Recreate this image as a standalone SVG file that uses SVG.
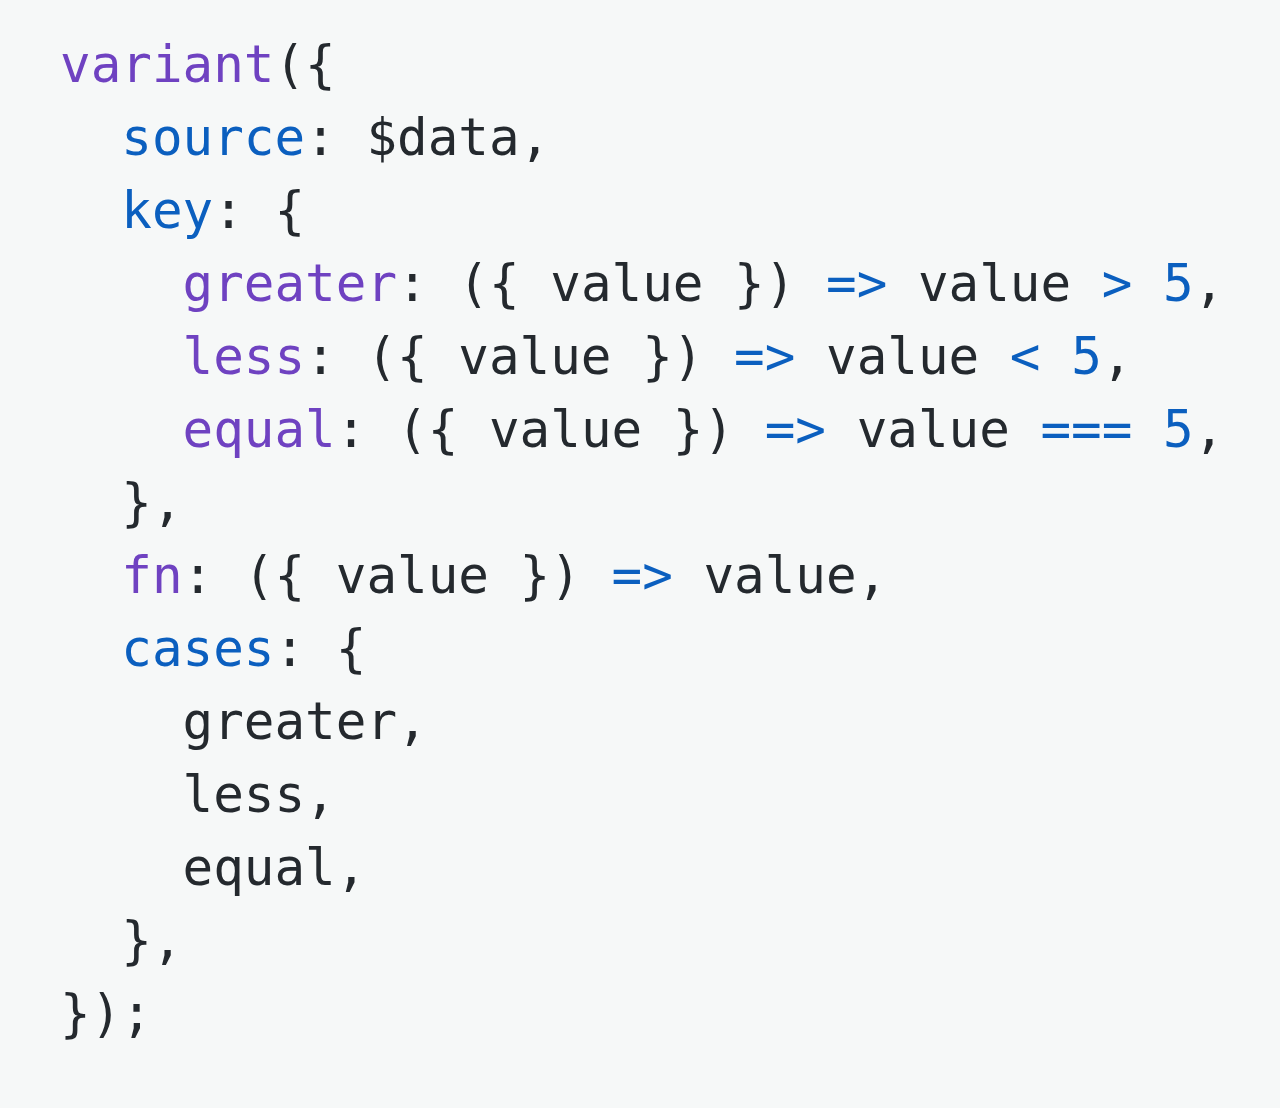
<svg xmlns="http://www.w3.org/2000/svg" width="1280" height="1108" viewBox="0 0 1280 1108">
<style>
text{font-family:"DejaVu Sans Mono","Liberation Mono",monospace;font-size:50.9px;fill:#24292e;white-space:pre}
.p{fill:#6f42c1}
.b{fill:#0b5fbf}
</style>
<rect width="1280" height="1108" fill="#f6f8f8"/>
<g id="code" xml:space="preserve">
<text x="60" y="82"><tspan class="p">variant</tspan>({</text>
<text x="60" y="155">  <tspan class="b">source</tspan>: $data,</text>
<text x="60" y="228">  <tspan class="b">key</tspan>: {</text>
<text x="60" y="301">    <tspan class="p">greater</tspan>: ({ value }) <tspan class="b">=&gt;</tspan> value <tspan class="b">&gt;</tspan> <tspan class="b">5</tspan>,</text>
<text x="60" y="374">    <tspan class="p">less</tspan>: ({ value }) <tspan class="b">=&gt;</tspan> value <tspan class="b">&lt;</tspan> <tspan class="b">5</tspan>,</text>
<text x="60" y="447">    <tspan class="p">equal</tspan>: ({ value }) <tspan class="b">=&gt;</tspan> value <tspan class="b">===</tspan> <tspan class="b">5</tspan>,</text>
<text x="60" y="520">  },</text>
<text x="60" y="593">  <tspan class="p">fn</tspan>: ({ value }) <tspan class="b">=&gt;</tspan> value,</text>
<text x="60" y="666">  <tspan class="b">cases</tspan>: {</text>
<text x="60" y="739">    greater,</text>
<text x="60" y="812">    less,</text>
<text x="60" y="885">    equal,</text>
<text x="60" y="958">  },</text>
<text x="60" y="1031">});</text>
</g>
</svg>
